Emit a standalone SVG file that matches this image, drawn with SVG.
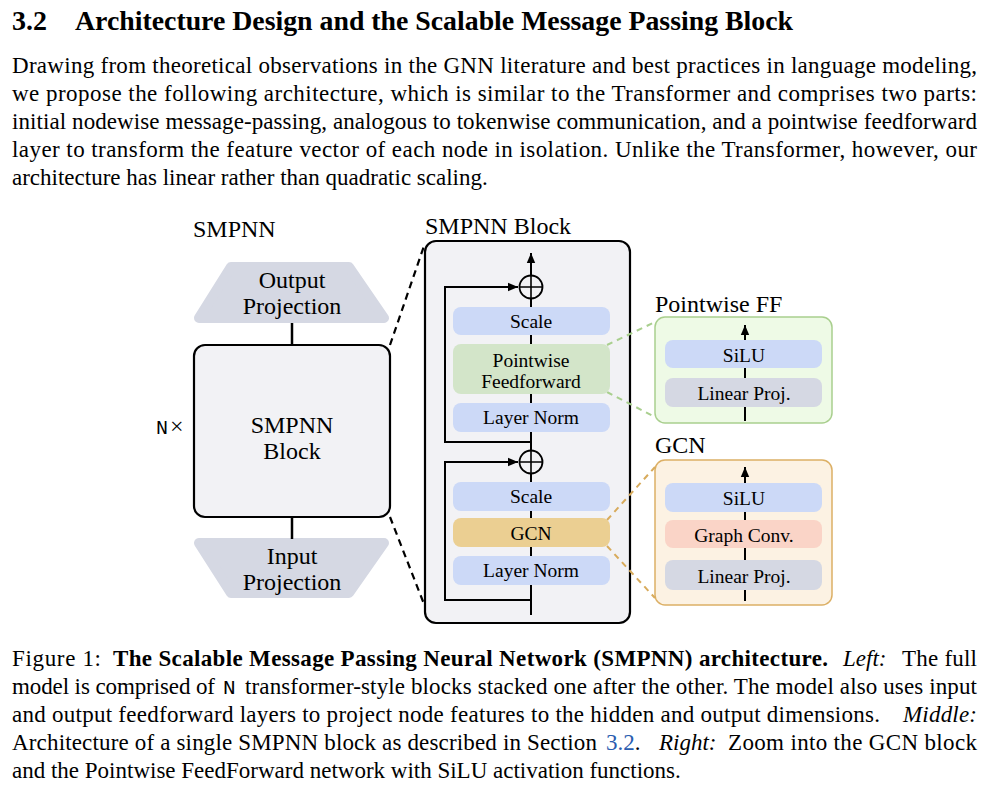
<svg xmlns="http://www.w3.org/2000/svg" width="1000" height="786" viewBox="0 0 1000 786">
<style>
.body{font-family:"Liberation Serif","Times New Roman",serif;font-size:23px;fill:#000}
.b{font-weight:bold}
.i{font-style:italic}
.lbl{font-family:"Liberation Serif","Times New Roman",serif;font-size:24px;fill:#000}
.in{font-family:"Liberation Serif","Times New Roman",serif;font-size:19.5px;fill:#000;text-anchor:middle}
.big{font-family:"Liberation Serif","Times New Roman",serif;font-size:24px;fill:#000;text-anchor:middle}
.mono{font-family:"Liberation Mono","Courier New",monospace}
.ln{stroke:#000;stroke-width:2;fill:none}
.blk{stroke:#000;stroke-width:2.2;fill:none;stroke-dasharray:7 5}
.gd{stroke:#a9cf8e;stroke-width:2;fill:none;stroke-dasharray:6 5}
.od{stroke:#d8ab5c;stroke-width:2;fill:none;stroke-dasharray:6 5}
.blue{fill:#ccd9f7}
.gray{fill:#d5d8e3}
</style>
<defs>
<marker id="ah" markerUnits="userSpaceOnUse" markerWidth="10" markerHeight="10" viewBox="0 0 10 10" refX="10" refY="5" orient="auto">
<path d="M0,0.8 L10,5 L0,9.2 Z" fill="#000"/>
</marker>
</defs>
<rect width="1000" height="786" fill="#fff"/>

<!-- heading and body text -->
<text x="12" y="30" class="body b" style="font-size:28px">3.2</text>
<text x="75" y="30" class="body b" style="font-size:28px" textLength="718" lengthAdjust="spacingAndGlyphs">Architecture Design and the Scalable Message Passing Block</text>
<text x="12" y="73" class="body" textLength="965" lengthAdjust="spacing">Drawing from theoretical observations in the GNN literature and best practices in language modeling,</text>
<text x="12" y="101" class="body" textLength="965" lengthAdjust="spacing">we propose the following architecture, which is similar to the Transformer and comprises two parts:</text>
<text x="12" y="129" class="body" textLength="965" lengthAdjust="spacing">initial nodewise message-passing, analogous to tokenwise communication, and a pointwise feedforward</text>
<text x="12" y="157" class="body" textLength="965" lengthAdjust="spacing">layer to transform the feature vector of each node in isolation.  Unlike the Transformer, however, our</text>
<text x="12" y="185" class="body">architecture has linear rather than quadratic scaling.</text>

<!-- Left column -->
<text x="193" y="237" class="lbl">SMPNN</text>
<g id="output-projection">
<polygon points="231,267 349,267 384,318 199,318" fill="#d5d8e3" stroke="#d5d8e3" stroke-width="10" stroke-linejoin="round"/>
<text x="292" y="288" class="big">Output</text>
<text x="292" y="314" class="big">Projection</text>
</g>
<g id="smpnn-block-left">
<rect x="194" y="345" width="196" height="172" rx="11" fill="#f2f2f5" stroke="#000" stroke-width="2.2"/>
<text x="292" y="433" class="big">SMPNN</text>
<text x="292" y="459" class="big">Block</text>
</g>
<g id="n-times">
<text x="156" y="434" class="lbl"><tspan class="mono" style="font-size:20px">N</tspan><tspan dx="2">×</tspan></text>
</g>
<g id="input-projection">
<polygon points="199,543 384,543 349,593 231,593" fill="#d5d8e3" stroke="#d5d8e3" stroke-width="10" stroke-linejoin="round"/>
<text x="292" y="564" class="big">Input</text>
<text x="292" y="590" class="big">Projection</text>
</g>

<!-- Middle block -->
<text x="425" y="234" class="lbl">SMPNN Block</text>
<g id="smpnn-block-detail">
<rect x="425" y="241" width="205" height="382" rx="11" fill="#f2f2f5" stroke="#000" stroke-width="2.2"/>
</g>

<!-- Right boxes frames -->
<text x="655" y="312" class="lbl">Pointwise FF</text>
<g id="pointwise-ff-detail">
<rect x="655" y="317" width="177" height="106" rx="10" fill="#eefae6" stroke="#a9cf8e" stroke-width="1.5"/>
</g>
<text x="655" y="453" class="lbl">GCN</text>
<g id="gcn-detail">
<rect x="655" y="460" width="177" height="145" rx="10" fill="#fcf2e3" stroke="#dcb066" stroke-width="1.5"/>
</g>

<!-- connectors -->
<g id="connectors">
<line x1="292" y1="323" x2="292" y2="345" class="ln" style="stroke-width:2.5"/>
<line x1="292" y1="517" x2="292" y2="539" class="ln" style="stroke-width:2.5"/>
<line x1="390" y1="345" x2="424" y2="246" class="blk"/>
<line x1="390" y1="517" x2="424" y2="604" class="blk"/>
<line x1="531" y1="615" x2="531" y2="253" class="ln" marker-end="url(#ah)"/>
<polyline points="531,442 445,442 445,287 518,287" class="ln" marker-end="url(#ah)"/>
<polyline points="531,600 445,600 445,462 518,462" class="ln" marker-end="url(#ah)"/>
<line x1="607" y1="345" x2="655" y2="322" class="gd"/>
<line x1="607" y1="392" x2="655" y2="417" class="gd"/>
<line x1="607" y1="520" x2="655" y2="467" class="od"/>
<line x1="607" y1="546" x2="655" y2="598" class="od"/>
<line x1="745" y1="421" x2="745" y2="325" class="ln" marker-end="url(#ah)"/>
<line x1="745" y1="601" x2="745" y2="467" class="ln" marker-end="url(#ah)"/>
</g>

<!-- middle nodes -->
<g id="add-top">
<circle cx="531" cy="287" r="11.5" fill="#f2f2f5" stroke="#000" stroke-width="1.8"/>
<path d="M519.5,287 H542.5 M531,275.5 V298.5" stroke="#000" stroke-width="1.6"/>
</g>
<g id="scale-top">
<rect x="453" y="307" width="157" height="28" rx="8" class="blue"/>
<text x="531" y="328" class="in">Scale</text>
</g>
<g id="pointwise-feedforward">
<rect x="453" y="344" width="157" height="50" rx="8" fill="#d3e5c9"/>
<text x="531" y="367" class="in">Pointwise</text>
<text x="531" y="388" class="in">Feedforward</text>
</g>
<g id="layernorm-top">
<rect x="453" y="403" width="157" height="29" rx="8" class="blue"/>
<text x="531" y="424" class="in">Layer Norm</text>
</g>
<g id="add-bottom">
<circle cx="531" cy="462" r="11.5" fill="#f2f2f5" stroke="#000" stroke-width="1.8"/>
<path d="M519.5,462 H542.5 M531,450.5 V473.5" stroke="#000" stroke-width="1.6"/>
</g>
<g id="scale-bottom">
<rect x="453" y="482" width="157" height="29" rx="8" class="blue"/>
<text x="531" y="503" class="in">Scale</text>
</g>
<g id="gcn">
<rect x="453" y="518" width="157" height="29" rx="8" fill="#ebcf92"/>
<text x="531" y="540" class="in">GCN</text>
</g>
<g id="layernorm-bottom">
<rect x="453" y="556" width="157" height="29" rx="8" class="blue"/>
<text x="531" y="577" class="in">Layer Norm</text>
</g>

<!-- right inner nodes -->
<g id="pwff-silu">
<rect x="665" y="340" width="157" height="28" rx="8" class="blue"/>
<text x="744" y="362" class="in">SiLU</text>
</g>
<g id="pwff-linear">
<rect x="665" y="378" width="157" height="29" rx="8" class="gray"/>
<text x="744" y="400" class="in">Linear Proj.</text>
</g>
<g id="gcn-silu">
<rect x="665" y="483" width="157" height="29" rx="8" class="blue"/>
<text x="744" y="505" class="in">SiLU</text>
</g>
<g id="gcn-graphconv">
<rect x="665" y="520" width="157" height="28" rx="8" fill="#fad4c7"/>
<text x="744" y="542" class="in">Graph Conv.</text>
</g>
<g id="gcn-linear">
<rect x="665" y="560" width="157" height="30" rx="8" class="gray"/>
<text x="744" y="583" class="in">Linear Proj.</text>
</g>

<!-- caption -->
<text x="12" y="666" class="body" textLength="89" lengthAdjust="spacing">Figure 1:</text>
<text x="113" y="666" class="body b" textLength="715" lengthAdjust="spacing">The Scalable Message Passing Neural Network (SMPNN) architecture.</text>
<text x="843" y="666" class="body i">Left:</text>
<text x="902" y="666" class="body" textLength="75" lengthAdjust="spacing">The full</text>
<text x="12" y="694" class="body" textLength="203" lengthAdjust="spacing">model is comprised of</text>
<text x="223" y="694" class="body mono" style="font-size:21px">N</text>
<text x="245" y="694" class="body" textLength="732" lengthAdjust="spacing">transformer-style blocks stacked one after the other. The model also uses input</text>
<text x="12" y="722" class="body" textLength="868" lengthAdjust="spacing">and output feedforward layers to project node features to the hidden and output dimensions.</text>
<text x="903" y="722" class="body i" textLength="74" lengthAdjust="spacing">Middle:</text>
<text x="12" y="750" class="body" textLength="585" lengthAdjust="spacing">Architecture of a single SMPNN block as described in Section</text>
<text x="606" y="750" class="body"><tspan style="fill:#2a5db0">3.2</tspan>.</text>
<text x="659" y="750" class="body i">Right:</text>
<text x="728" y="750" class="body" textLength="249" lengthAdjust="spacing">Zoom into the GCN block</text>
<text x="12" y="778" class="body">and the Pointwise FeedForward network with SiLU activation functions.</text>
</svg>
